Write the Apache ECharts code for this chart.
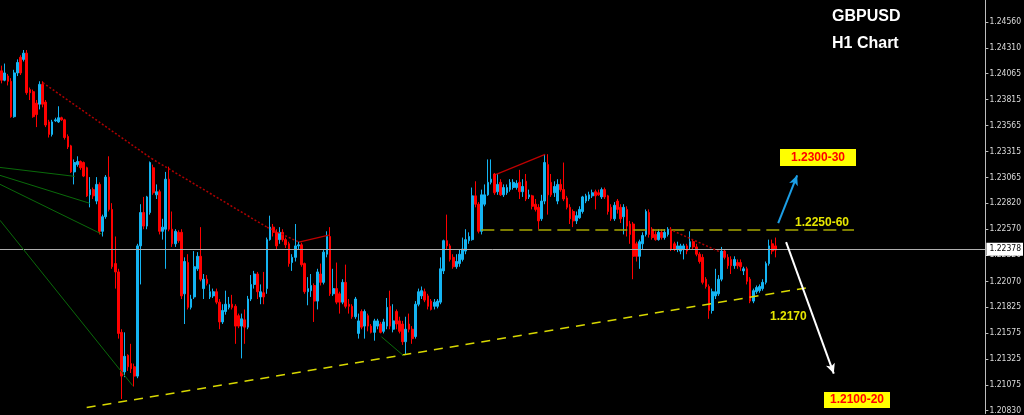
<!DOCTYPE html>
<html><head><meta charset="utf-8">
<script src="https://cdn.jsdelivr.net/npm/echarts@6/dist/echarts.min.js"></script>
<style>html,body{margin:0;padding:0;background:#000;}#c{width:1024px;height:415px;}</style>
</head><body><div id="c"></div><script>
// GBPUSD H1 candles
const opens = [
1.2409,1.2400,1.2404,1.2399,1.2365,1.2407,1.2422,1.2420,1.2426,1.2391,
1.2389,1.2378,1.2377,1.2396,1.2379,1.2360,1.2348,1.2361,1.2360,1.2364,
1.2362,1.2346,1.2337,1.2312,1.2319,1.2322,1.2321,1.2316,1.2290,1.2295,
1.2284,1.2300,1.2255,1.2269,1.2307,1.2276,1.2224,1.2216,1.2158,1.2120,
1.2136,1.2128,1.2125,1.2116,1.2241,1.2273,1.2260,1.2273,1.2316,1.2290,
1.2293,1.2255,1.2257,1.2305,1.2257,1.2243,1.2254,1.2254,1.2195,1.2225,
1.2182,1.2192,1.2219,1.2231,1.2200,1.2209,1.2192,1.2193,1.2197,1.2187,
1.2168,1.2178,1.2182,1.2185,1.2183,1.2174,1.2164,1.2170,1.2163,1.2190,
1.2204,1.2214,
1.2192,1.2196,1.2200,1.2247,1.2259,1.2254,1.2247,1.2254,1.2247,1.2243,
1.2225,1.2230,1.2241,1.2242,1.2224,1.2197,1.2198,1.2203,1.2188,1.2214,
1.2206,1.2233,1.2250,1.2195,1.2200,1.2195,1.2187,1.2206,1.2185,1.2183,
1.2173,1.2157,1.2178,1.2164,1.2174,1.2164,1.2158,1.2164,1.2166,1.2159,
1.2164,1.2183,1.2161,1.2178,1.2169,1.2166,1.2149,1.2166,1.2161,1.2154,
1.2185,1.2193,1.2197,1.2193,1.2188,1.2183,1.2183,1.2187,1.2217,1.2246,
1.2241,1.2230,1.2221,1.2224,1.2228,1.2236,1.2246,1.2247,1.2289,1.2281,
1.2255,1.2281,1.2290,1.2302,1.2310,1.2293,1.2302,1.2290,1.2292,1.2295,
1.2297,1.2297,
1.2302,1.2293,1.2303,1.2288,1.2289,1.2281,1.2278,1.2267,1.2284,1.2319,
1.2302,1.2292,1.2284,1.2300,1.2295,1.2287,1.2278,1.2274,1.2265,1.2268,
1.2274,1.2284,1.2286,1.2289,1.2293,1.2292,1.2288,1.2295,1.2289,1.2278,
1.2267,1.2284,1.2278,1.2269,1.2276,1.2262,1.2262,1.2243,1.2231,1.2243,
1.2252,1.2273,1.2257,1.2252,1.2247,1.2254,1.2249,1.2252,1.2257,1.2243,
1.2238,1.2236,1.2238,1.2241,1.2240,1.2245,1.2240,1.2233,1.2230,1.2209,
1.2202,1.2179,1.2193,1.2195,1.2209,1.2236,1.2230,1.2228,1.2222,1.2225,
1.2225,1.2217,1.2219,1.2209,1.2188,1.2197,1.2198,1.2200,1.2206,1.2224,
1.2243,1.2241];
const closes = [
1.2400,1.2407,1.2399,1.2365,1.2407,1.2417,1.2407,1.2426,1.2388,1.2388,
1.2365,1.2367,1.2396,1.2377,1.2357,1.2348,1.2360,1.2362,1.2364,1.2362,
1.2345,1.2336,1.2312,1.2321,1.2322,1.2316,1.2308,1.2289,1.2295,1.2289,
1.2300,1.2255,1.2269,1.2307,1.2276,1.2221,1.2216,1.2157,1.2116,1.2135,
1.2125,1.2123,1.2116,1.2241,1.2273,1.2260,1.2288,1.2321,1.2292,1.2293,
1.2255,1.2259,1.2305,1.2257,1.2243,1.2255,1.2246,1.2193,1.2226,1.2182,
1.2190,1.2221,1.2231,1.2209,1.2209,1.2205,1.2197,1.2197,1.2187,1.2168,
1.2179,1.2185,1.2185,1.2182,1.2164,1.2164,1.2171,1.2163,1.2190,1.2204,
1.2214,1.2197,
1.2197,1.2192,1.2247,1.2259,1.2254,1.2241,1.2254,1.2247,1.2242,1.2224,
1.2230,1.2241,1.2242,1.2223,1.2197,1.2200,1.2203,1.2188,1.2216,1.2206,
1.2235,1.2250,1.2195,1.2200,1.2187,1.2187,1.2206,1.2183,1.2183,1.2173,
1.2190,1.2169,1.2163,1.2178,1.2164,1.2158,1.2169,1.2169,1.2158,1.2168,
1.2182,1.2164,1.2169,1.2166,1.2159,1.2149,1.2161,1.2161,1.2152,1.2185,
1.2197,1.2198,1.2189,1.2183,1.2180,1.2187,1.2188,1.2219,1.2246,1.2241,
1.2228,1.2221,1.2226,1.2233,1.2238,1.2247,1.2250,1.2289,1.2281,1.2255,
1.2290,1.2290,1.2302,1.2305,1.2292,1.2300,1.2290,1.2297,1.2297,1.2302,
1.2302,1.2301,
1.2293,1.2298,1.2286,1.2290,1.2279,1.2276,1.2265,1.2284,1.2321,1.2290,
1.2290,1.2298,1.2300,1.2295,1.2286,1.2278,1.2267,1.2265,1.2270,1.2276,
1.2288,1.2289,1.2290,1.2292,1.2289,1.2290,1.2295,1.2288,1.2274,1.2267,
1.2280,1.2276,1.2267,1.2278,1.2260,1.2252,1.2231,1.2231,1.2245,1.2251,
1.2274,1.2252,1.2249,1.2247,1.2254,1.2249,1.2254,1.2257,1.2238,1.2238,
1.2241,1.2241,1.2241,1.2236,1.2245,1.2240,1.2233,1.2226,1.2206,1.2202,
1.2179,1.2197,1.2197,1.2209,1.2236,1.2230,1.2222,1.2222,1.2228,1.2222,
1.2221,1.2219,1.2207,1.2188,1.2198,1.2201,1.2202,1.2206,1.2224,1.2241,
1.2236,1.2237];
const lows = [
1.2397,1.2399,1.2395,1.2364,1.2364,1.2404,1.2405,1.2418,1.2386,1.2381,
1.2364,1.2355,1.2372,1.2374,1.2355,1.2345,1.2346,1.2360,1.2359,1.2361,
1.2343,1.2334,1.2311,1.2300,1.2317,1.2314,1.2307,1.2288,1.2278,1.2286,
1.2281,1.2252,1.2250,1.2267,1.2274,1.2219,1.2200,1.2152,1.2094,1.2115,
1.2121,1.2119,1.2106,1.2114,1.2204,1.2257,1.2257,1.2271,1.2290,1.2286,
1.2252,1.2247,1.2219,1.2255,1.2240,1.2240,1.2244,1.2190,1.2166,1.2180,
1.2180,1.2190,1.2217,1.2207,1.2190,1.2203,1.2190,1.2191,1.2185,1.2161,
1.2166,1.2175,1.2180,1.2180,1.2147,1.2162,1.2133,1.2147,1.2161,1.2188,
1.2200,1.2190,
1.2185,1.2185,1.2195,1.2246,1.2250,1.2238,1.2243,1.2245,1.2239,1.2221,
1.2217,1.2226,1.2238,1.2221,1.2195,1.2184,1.2192,1.2168,1.2180,1.2203,
1.2204,1.2230,1.2193,1.2193,1.2185,1.2176,1.2185,1.2181,1.2176,1.2171,
1.2171,1.2152,1.2161,1.2152,1.2159,1.2157,1.2150,1.2161,1.2157,1.2157,
1.2161,1.2161,1.2158,1.2161,1.2157,1.2146,1.2137,1.2158,1.2147,1.2152,
1.2183,1.2190,1.2187,1.2180,1.2179,1.2180,1.2181,1.2185,1.2214,1.2238,
1.2226,1.2219,1.2219,1.2221,1.2226,1.2233,1.2243,1.2246,1.2278,1.2253,
1.2252,1.2279,1.2289,1.2300,1.2290,1.2290,1.2289,1.2288,1.2290,1.2293,
1.2295,1.2295,
1.2286,1.2288,1.2284,1.2286,1.2276,1.2274,1.2257,1.2265,1.2281,1.2271,
1.2288,1.2288,1.2281,1.2293,1.2284,1.2276,1.2262,1.2259,1.2262,1.2267,
1.2272,1.2282,1.2284,1.2287,1.2276,1.2289,1.2286,1.2286,1.2271,1.2265,
1.2265,1.2272,1.2263,1.2252,1.2250,1.2243,1.2209,1.2226,1.2219,1.2238,
1.2250,1.2249,1.2247,1.2246,1.2246,1.2247,1.2247,1.2250,1.2236,1.2236,
1.2235,1.2233,1.2228,1.2233,1.2238,1.2238,1.2231,1.2224,1.2204,1.2200,
1.2171,1.2176,1.2190,1.2193,1.2207,1.2228,1.2219,1.2214,1.2219,1.2219,
1.2217,1.2213,1.2204,1.2186,1.2186,1.2195,1.2196,1.2198,1.2204,1.2222,
1.2233,1.2230];
const highs = [
1.2414,1.2416,1.2406,1.2402,1.2410,1.2420,1.2424,1.2429,1.2429,1.2393,
1.2391,1.2381,1.2399,1.2399,1.2381,1.2362,1.2362,1.2364,1.2375,1.2365,
1.2363,1.2348,1.2338,1.2324,1.2327,1.2323,1.2322,1.2317,1.2307,1.2297,
1.2307,1.2302,1.2271,1.2309,1.2327,1.2282,1.2250,1.2219,1.2161,1.2158,
1.2137,1.2147,1.2128,1.2243,1.2281,1.2288,1.2289,1.2322,1.2319,1.2300,
1.2295,1.2267,1.2312,1.2317,1.2274,1.2257,1.2256,1.2257,1.2230,1.2233,
1.2194,1.2236,1.2235,1.2259,1.2214,1.2213,1.2204,1.2200,1.2200,1.2190,
1.2185,1.2198,1.2192,1.2194,1.2185,1.2176,1.2176,1.2180,1.2193,1.2213,
1.2217,1.2216,
1.2204,1.2216,1.2249,1.2270,1.2262,1.2257,1.2259,1.2257,1.2249,1.2245,
1.2233,1.2262,1.2245,1.2244,1.2225,1.2211,1.2214,1.2205,1.2219,1.2224,
1.2237,1.2255,1.2259,1.2219,1.2225,1.2197,1.2209,1.2223,1.2190,1.2185,
1.2192,1.2176,1.2180,1.2180,1.2176,1.2166,1.2171,1.2171,1.2168,1.2171,
1.2191,1.2198,1.2185,1.2180,1.2173,1.2169,1.2173,1.2176,1.2164,1.2188,
1.2200,1.2202,1.2200,1.2195,1.2190,1.2190,1.2190,1.2230,1.2247,1.2271,
1.2243,1.2233,1.2233,1.2238,1.2249,1.2257,1.2254,1.2297,1.2303,1.2283,
1.2295,1.2300,1.2324,1.2324,1.2311,1.2310,1.2305,1.2300,1.2300,1.2305,
1.2305,1.2304,
1.2314,1.2305,1.2310,1.2295,1.2290,1.2286,1.2281,1.2290,1.2329,1.2329,
1.2310,1.2303,1.2305,1.2305,1.2321,1.2289,1.2281,1.2276,1.2274,1.2279,
1.2289,1.2291,1.2293,1.2295,1.2295,1.2295,1.2297,1.2297,1.2290,1.2281,
1.2283,1.2286,1.2281,1.2281,1.2279,1.2265,1.2264,1.2245,1.2247,1.2254,
1.2276,1.2276,1.2259,1.2255,1.2257,1.2257,1.2257,1.2259,1.2259,1.2245,
1.2245,1.2243,1.2243,1.2243,1.2255,1.2247,1.2243,1.2235,1.2233,1.2211,
1.2204,1.2200,1.2219,1.2213,1.2240,1.2238,1.2233,1.2231,1.2231,1.2228,
1.2228,1.2221,1.2221,1.2211,1.2200,1.2203,1.2204,1.2209,1.2226,1.2247,
1.2247,1.2249];

const lastPrice = 1.22378;
const priceTicks = [1.24560,1.24310,1.24065,1.23815,1.23565,1.23315,1.23065,1.22820,
  1.22570,1.22320,1.22070,1.21825,1.21575,1.21325,1.21075,1.20830];
const slotCount = 312; // bar slots across the visible window (incl. empty future area)

// drawing objects: [barIndex, price]
const supportLine = [[26.95, 1.20858], [256.6, 1.22016]];
const resistanceLine = [[151.9, 1.22561], [269.9, 1.22561]];
const downTrendDotted = [[13.07, 1.23976], [47.45, 1.23249], [84.05, 1.22589], [94.14, 1.22446]];
const redSolid1 = [[94.14, 1.22446], [103.6, 1.22513]];
const redSolid2 = [[156.6, 1.23096], [172.1, 1.23288]];
const redDottedRight = [[211.5, 1.22570], [227.6, 1.22350]];
const greenLines = [
  [[-0.5, 1.23163], [23.2, 1.23077]],
  [[-0.5, 1.23087], [27.9, 1.22819]],
  [[-0.5, 1.23001], [31.7, 1.22523]],
  [[-0.5, 1.22656], [41.5, 1.21069]],
  [[120.3, 1.21537], [127.3, 1.21356]]
];
const upArrow = [[245.9, 1.22628], [251.9, 1.23087]];
const downArrow = [[248.4, 1.22446], [263.5, 1.21184]];

const categories = [];
for (let i = 0; i < slotCount; i++) categories.push(String(i));
const candles = opens.map((o, i) => [o, closes[i], lows[i], highs[i]]);

function seg(pts, style, endSymbol) {
  const out = [];
  for (let i = 0; i < pts.length - 1; i++) {
    const a = {coord: pts[i], symbol: 'none', lineStyle: style};
    const b = {coord: pts[i + 1], symbol: (endSymbol && i === pts.length - 2) ? endSymbol : 'none', symbolSize: [7, 10]};
    out.push([a, b]);
  }
  return out;
}
const yellowSupport = {color: '#d8d800', width: 1.5, type: [9, 7]};
const yellowRes = {color: '#a8a800', width: 1.5, type: [13, 6]};
const redDot = {color: '#b00000', width: 1.5, type: [2, 2]};
const redLine = {color: '#c00000', width: 1.2, type: 'solid'};
const greenLine = {color: '#0a6a0a', width: 1, type: 'solid'};

let annotations = [];
// current price line with its axis label
annotations.push([
  {coord: [-0.5, lastPrice], symbol: 'none', lineStyle: {color: '#b0b0b0', width: 1, type: 'solid'},
   label: {show: true, position: 'end', distance: 1, formatter: () => lastPrice.toFixed(5),
     color: '#000', backgroundColor: '#ffffff', fontSize: 8.5, padding: [2, 2, 2, 3],
     fontFamily: 'DejaVu Sans Condensed, Liberation Sans, sans-serif'}},
  {coord: [slotCount - 0.5, lastPrice], symbol: 'none'}
]);
annotations = annotations.concat(seg(supportLine, yellowSupport));
annotations = annotations.concat(seg(resistanceLine, yellowRes));
annotations = annotations.concat(seg(downTrendDotted, redDot));
annotations = annotations.concat(seg(redSolid1, redLine));
annotations = annotations.concat(seg(redSolid2, redLine));
annotations = annotations.concat(seg(redDottedRight, redDot));
greenLines.forEach(g => { annotations = annotations.concat(seg(g, greenLine)); });
annotations = annotations.concat(seg(upArrow, {color: '#1c9fe6', width: 2, type: 'solid'}, 'arrow'));
annotations = annotations.concat(seg(downArrow, {color: '#ffffff', width: 2, type: 'solid'}, 'arrow'));
annotations.forEach(p => { p[1].itemStyle = {color: p[0].lineStyle.color}; });

const chart = echarts.init(document.getElementById('c'), null, {renderer: 'canvas'});
const FONT = 'Liberation Sans, Arial, sans-serif';
chart.setOption({
  backgroundColor: '#000000',
  animation: false,
  grid: {left: 0, right: 34, top: 0, bottom: 0, containLabel: false},
  xAxis: [
    {type: 'category', data: categories, boundaryGap: true, show: false},
    {type: 'value', min: -0.5, max: slotCount - 0.5, show: false}
  ],
  yAxis: [{
    type: 'value', position: 'right', min: 1.20801, max: 1.24770,
    splitLine: {show: false},
    axisLine: {show: true, onZero: false, lineStyle: {color: '#bdbdbd', width: 1}},
    axisTick: {show: true, length: 3, lineStyle: {color: '#bdbdbd'}, customValues: priceTicks},
    axisLabel: {customValues: priceTicks, formatter: v => v.toFixed(5), color: '#dcdcdc',
      fontSize: 8.5, fontFamily: 'DejaVu Sans Condensed, Liberation Sans, sans-serif', margin: 4}
  }],
  series: [
    {
      type: 'candlestick', xAxisIndex: 0, yAxisIndex: 0, data: candles,
      barWidth: 2.2,
      itemStyle: {color: '#14b4f2', color0: '#ff0000', borderColor: '#14b4f2', borderColor0: '#ff0000', borderWidth: 1}
    },
    {
      type: 'line', xAxisIndex: 1, yAxisIndex: 0, data: [], silent: true, z: 3,
      markLine: {silent: true, animation: false, symbol: ['none', 'none'], label: {show: false}, data: annotations}
    }
  ],
  graphic: [
    {type: 'text', left: 832, top: 9, style: {text: 'GBPUSD', fill: '#fff', font: 'bold 16px ' + FONT}},
    {type: 'text', left: 832, top: 36, style: {text: 'H1 Chart', fill: '#fff', font: 'bold 16px ' + FONT}},
    {type: 'rect', shape: {x: 780, y: 149, width: 76, height: 17}, style: {fill: '#ffff00'}},
    {type: 'text', x: 818, y: 158, style: {text: '1.2300-30', fill: '#ff0000', font: 'bold 12px ' + FONT, align: 'center', verticalAlign: 'middle'}},
    {type: 'text', x: 795, y: 223, style: {text: '1.2250-60', fill: '#e6e600', font: 'bold 12px ' + FONT, verticalAlign: 'middle'}},
    {type: 'text', x: 770, y: 317, style: {text: '1.2170', fill: '#e6e600', font: 'bold 12px ' + FONT, verticalAlign: 'middle'}},
    {type: 'rect', shape: {x: 824, y: 392, width: 66, height: 16}, style: {fill: '#ffff00'}},
    {type: 'text', x: 857, y: 400, style: {text: '1.2100-20', fill: '#ff0000', font: 'bold 12px ' + FONT, align: 'center', verticalAlign: 'middle'}}
  ]
});
</script></body></html>
